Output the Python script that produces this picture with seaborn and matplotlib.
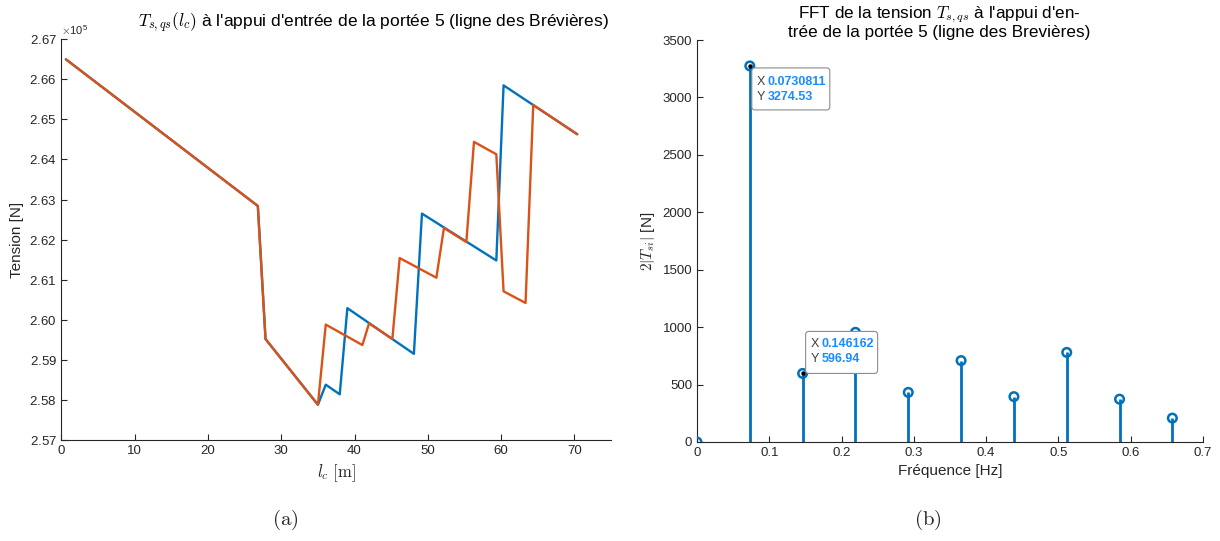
import numpy as np
import pandas as pd
import matplotlib
matplotlib.use("Agg")
import matplotlib.pyplot as plt
import matplotlib.transforms as mtransforms
from matplotlib.patches import FancyBboxPatch
import seaborn as sns
from matplotlib.ticker import ScalarFormatter

# --- donnees (a) : tension le long de la portee ---
lc_bleu = [0.6, 26.8, 27.85, 35.0, 36.07, 37.98, 39.02, 48.1, 49.2, 59.35, 60.34, 70.4]
T_bleu = [2.665, 2.6284, 2.5952, 2.5788, 2.5838, 2.5814, 2.6029, 2.5915, 2.6265,
          2.6148, 2.6585, 2.6463]
lc_orange = [0.6, 26.8, 27.85, 35.0, 36.07, 41.07, 41.98, 45.16, 46.16, 51.17, 52.2,
             55.26, 56.3, 59.35, 60.34, 63.34, 64.39, 70.4]
T_orange = [2.665, 2.6284, 2.5952, 2.5788, 2.5988, 2.5937, 2.5991, 2.5952, 2.6154,
            2.6105, 2.6229, 2.6194, 2.6444, 2.6413, 2.6071, 2.6042, 2.6536, 2.6463]

# --- donnees (b) : FFT ---
freq = [0.0, 0.0730811, 0.146162, 0.2192433, 0.2923244, 0.3654055, 0.4384866,
        0.5115677, 0.5846488, 0.6577299]
amp = [0.0, 3274.53, 596.94, 955.0, 432.0, 709.0, 395.0, 780.0, 373.0, 208.0]

bleu = '#0072BD'
orange = '#D95319'
gris = '#262626'

sns.set_theme(style='white')
plt.rcParams['font.family'] = ['Liberation Sans', 'DejaVu Sans']
plt.rcParams['mathtext.fontset'] = 'cm'

fig = plt.figure(figsize=(12.2, 5.41), dpi=100)
ax1 = fig.add_axes([0.0504, 0.1867, 0.4504, 0.7407])
ax2 = fig.add_axes([0.5713, 0.183, 0.4147, 0.743])

# === (a) ===
df_b = pd.DataFrame({'lc': lc_bleu, 'T': np.array(T_bleu) * 1e5})
df_o = pd.DataFrame({'lc': lc_orange, 'T': np.array(T_orange) * 1e5})
sns.lineplot(data=df_b, x='lc', y='T', ax=ax1, color=bleu, lw=1.7, sort=False, estimator=None)
sns.lineplot(data=df_o, x='lc', y='T', ax=ax1, color=orange, lw=1.7, sort=False, estimator=None)
ax1.set_xlim(0, 75)
ax1.set_ylim(2.57e5, 2.67e5)
ax1.set_xticks(range(0, 71, 10))
ax1.set_yticks(np.arange(2.57e5, 2.6701e5, 0.01e5))
fmt = ScalarFormatter(useMathText=True)
fmt.set_powerlimits((0, 0))
ax1.yaxis.set_major_formatter(fmt)
ax1.yaxis.get_offset_text().set_fontsize(8)
ax1.set_xlabel(r'$l_c\ [\mathrm{m}]$', fontsize=12, color=gris)
ax1.set_ylabel('Tension [N]', fontsize=11, color=gris)

# === (b) ===
df_f = pd.DataFrame({'f': freq, 'A': amp})
ax2.vlines(df_f['f'], 0, df_f['A'], color=bleu, lw=2)
sns.scatterplot(data=df_f, x='f', y='A', ax=ax2, marker='o', s=38,
                facecolor='none', edgecolor=bleu, linewidth=1.8, zorder=3)
ax2.plot(freq[1:3], amp[1:3], 'o', ms=2.2, color='black', zorder=4)
ax2.set_xlim(0, 0.7)
ax2.set_ylim(0, 3500)
ax2.set_xticks(np.arange(0, 0.71, 0.1))
ax2.set_xticklabels(['0', '0.1', '0.2', '0.3', '0.4', '0.5', '0.6', '0.7'])
ax2.set_yticks(range(0, 3501, 500))
ax2.set_xlabel('Fréquence [Hz]', fontsize=11, color=gris)
ax2.set_ylabel(r'$2|T_{si}|$ [N]', fontsize=11, color=gris)

for ax in (ax1, ax2):
    for s in ('top', 'right'):
        ax.spines[s].set_visible(False)
    for s in ('left', 'bottom'):
        ax.spines[s].set_color(gris)
        ax.spines[s].set_linewidth(0.8)
    ax.tick_params(direction='in', length=4, width=0.8, colors=gris, labelsize=9.5,
                   bottom=True, left=True)


# bulles de donnees (datatips) ; positions en pixels relatives au point
def datatip(x, y, box, tx, ty, xs, ys):
    tr = fig.dpi_scale_trans + mtransforms.ScaledTranslation(x, y, ax2.transData)
    x0, y0, w, h = [v / 100 for v in box]
    ax2.add_patch(FancyBboxPatch((x0, y0), w, h, boxstyle='round,pad=0,rounding_size=0.03',
                                 fc='white', ec='#8c8c8c', lw=0.8, transform=tr,
                                 zorder=5, clip_on=False))
    for lab, val, yy in (('X', xs, ty), ('Y', ys, ty - 15)):
        ax2.text(tx / 100, yy / 100, lab, transform=tr, ha='left', va='center',
                 fontsize=9, color='#404040', zorder=6)
        ax2.text((tx + 11) / 100, yy / 100, val, transform=tr, ha='left', va='center',
                 fontsize=9, fontweight='bold', color='#1a8cff', zorder=6)


datatip(freq[1], amp[1], (2, -44, 78, 42), 7, -16, '0.0730811', '3274.53')
datatip(freq[2], amp[2], (3, 0, 72, 42), 8, 29, '0.146162', '596.94')

# titres
fig.text(0.306, 0.957, "$T_{s,qs}(l_c)$ à l'appui d'entrée de la portée 5 (ligne des Brévières)",
         ha='center', va='center', fontsize=12.5, color='black')
fig.text(0.770, 0.973, "FFT de la tension $T_{s,qs}$ à l'appui d'en-",
         ha='center', va='center', fontsize=12.3, color='black')
fig.text(0.770, 0.940, 'trée de la portée 5 (ligne des Brevières)',
         ha='center', va='center', fontsize=12.3, color='black')

# sous-legendes
fig.text(0.2336, 0.039, r'$\mathrm{(a)}$', ha='center', va='center', fontsize=15)
fig.text(0.7607, 0.039, r'$\mathrm{(b)}$', ha='center', va='center', fontsize=15)

fig.savefig('out.png', dpi=100)
